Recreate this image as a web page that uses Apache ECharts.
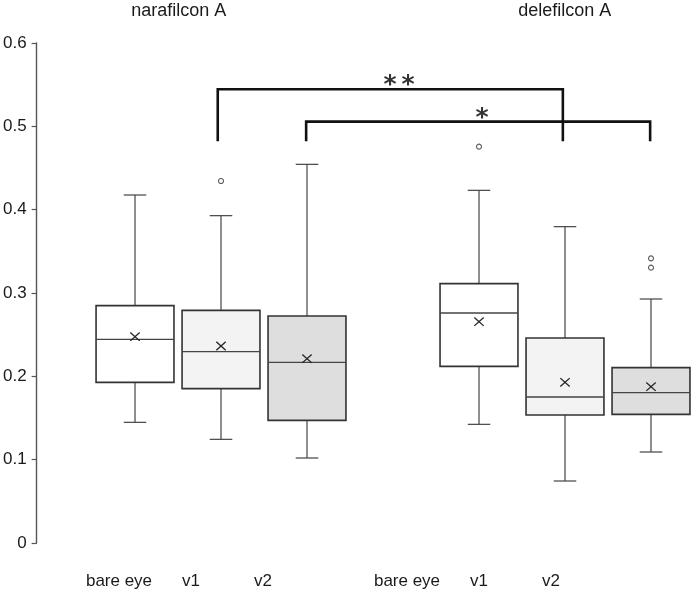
<!DOCTYPE html>
<html>
<head>
<meta charset="utf-8">
<style>
  html, body { margin: 0; padding: 0; background: #ffffff; }
  #chart { width: 693px; height: 607px; }
</style>
<script src="https://cdn.jsdelivr.net/npm/echarts@6/dist/echarts.min.js"></script>
</head>
<body>
<div id="chart"></div>
<script>
// ---- data ----
const tickLabels = ['', 'bare eye', 'v1', 'v2', '', 'bare eye', 'v1', 'v2'];
const groupNames = ['narafilcon A', 'delefilcon A'];
const boxPositions = [1, 2, 3, 5, 6, 7];
const boxMin    = [0.1448, 0.1244, 0.1020, 0.1424, 0.0744, 0.1092];
const boxQ1     = [0.1928, 0.1852, 0.1472, 0.2120, 0.1536, 0.1544];
const boxMedian = [0.2444, 0.2296, 0.2168, 0.2760, 0.1752, 0.1804];
const boxQ3     = [0.2848, 0.2792, 0.2724, 0.3112, 0.2460, 0.2104];
const boxMax    = [0.4176, 0.3928, 0.4544, 0.4232, 0.3796, 0.2928];
const boxMean   = [0.2476, 0.2364, 0.2212, 0.2656, 0.1928, 0.1876];
const outlierX  = [2, 5, 7, 7];
const outlierY  = [0.4344, 0.4756, 0.3416, 0.3304];
// significance brackets
const bracket1X = [1.962, 1.962, 5.975, 5.975];
const bracket1Y = [0.4836, 0.5445, 0.5445, 0.4836];
const bracket2X = [2.99, 2.99, 6.99, 6.99];
const bracket2Y = [0.4836, 0.5056, 0.5056, 0.4836];
const starLabels = ['*\u2009*', '*'];
const starX = [4.07, 5.034];
const starY = [0.549, 0.5095];

// ---- styles ----
const boxFills = ['#ffffff', '#f3f3f3', '#dedede', '#ffffff', '#f3f3f3', '#dedede'];
const FONT = '"Liberation Sans", Arial, Helvetica, sans-serif';

const boxData = boxPositions.map((x, i) => [x, boxMin[i], boxQ1[i], boxMedian[i], boxQ3[i], boxMax[i], boxMean[i]]);
const outlierData = outlierX.map((x, i) => [x, outlierY[i]]);
const b1 = bracket1X.map((x, i) => [x, bracket1Y[i]]);
const b2 = bracket2X.map((x, i) => [x, bracket2Y[i]]);
const starData = starX.map((x, i) => ({ value: [x, starY[i]], label: { formatter: starLabels[i] } }));

const chart = echarts.init(document.getElementById('chart'), null, { renderer: 'canvas' });

const option = {
  animation: false,
  backgroundColor: '#ffffff',
  grid: [
    { left: 36, right: 42, top: 43, bottom: 64 },
    { left: 47, right: 142, top: 43, bottom: 64 }
  ],
  xAxis: [
    { gridIndex: 0, type: 'value', min: -0.144, max: 7, show: false },
    {
      gridIndex: 1, type: 'category', boundaryGap: false, data: tickLabels,
      axisLine: { show: false }, axisTick: { show: false }, splitLine: { show: false },
      axisLabel: { interval: 0, fontSize: 17, fontFamily: FONT, color: '#1a1a1a', margin: 30 }
    }
  ],
  yAxis: [
    {
      gridIndex: 0, type: 'value', min: 0, max: 0.6, interval: 0.1,
      axisLine: { show: true, onZero: false, lineStyle: { color: '#555555', width: 1.4 } },
      axisTick: { show: true, inside: false, length: 5, lineStyle: { color: '#555555', width: 1.2 } },
      splitLine: { show: false },
      axisLabel: { fontSize: 17, fontFamily: FONT, color: '#1a1a1a', margin: 10 }
    },
    { gridIndex: 1, type: 'value', min: 0, max: 0.6, show: false }
  ],
  graphic: [
    { type: 'text', x: 178.7, y: 11, style: { text: groupNames[0], font: '18px ' + FONT, fill: '#1a1a1a', textAlign: 'center', textVerticalAlign: 'middle' } },
    { type: 'text', x: 564.7, y: 11, style: { text: groupNames[1], font: '18px ' + FONT, fill: '#1a1a1a', textAlign: 'center', textVerticalAlign: 'middle' } }
  ],
  series: [
    {
      type: 'custom',
      xAxisIndex: 0, yAxisIndex: 0,
      data: boxData,
      encode: { x: 0, y: [1, 2, 3, 4, 5, 6] },
      renderItem: function (params, api) {
        const x = api.value(0);
        const lo = api.coord([x, api.value(1)]);
        const q1 = api.coord([x, api.value(2)]);
        const med = api.coord([x, api.value(3)]);
        const q3 = api.coord([x, api.value(4)]);
        const hi = api.coord([x, api.value(5)]);
        const mn = api.coord([x, api.value(6)]);
        const unit = api.size([1, 0])[0];
        const bw = unit * 0.906;
        const cw = unit * 0.262;
        const cx = lo[0];
        const wStyle = { stroke: '#444444', lineWidth: 1.2 };
        const mx = 4.7, my = 4.2;
        return {
          type: 'group',
          children: [
            { type: 'line', shape: { x1: cx, y1: hi[1], x2: cx, y2: q3[1] }, style: wStyle },
            { type: 'line', shape: { x1: cx, y1: q1[1], x2: cx, y2: lo[1] }, style: wStyle },
            { type: 'line', shape: { x1: cx - cw / 2, y1: hi[1], x2: cx + cw / 2, y2: hi[1] }, style: wStyle },
            { type: 'line', shape: { x1: cx - cw / 2, y1: lo[1], x2: cx + cw / 2, y2: lo[1] }, style: wStyle },
            { type: 'rect', shape: { x: cx - bw / 2, y: q3[1], width: bw, height: q1[1] - q3[1] },
              style: { fill: boxFills[params.dataIndex], stroke: '#333333', lineWidth: 1.6 } },
            { type: 'line', shape: { x1: cx - bw / 2, y1: med[1], x2: cx + bw / 2, y2: med[1] }, style: { stroke: '#444444', lineWidth: 1.4 } },
            { type: 'line', shape: { x1: cx - mx, y1: mn[1] - my, x2: cx + mx, y2: mn[1] + my }, style: { stroke: '#222222', lineWidth: 1.3 } },
            { type: 'line', shape: { x1: cx - mx, y1: mn[1] + my, x2: cx + mx, y2: mn[1] - my }, style: { stroke: '#222222', lineWidth: 1.3 } }
          ]
        };
      },
      z: 2
    },
    {
      type: 'scatter', xAxisIndex: 0, yAxisIndex: 0,
      data: outlierData, symbol: 'circle', symbolSize: 5,
      itemStyle: { color: '#ffffff', borderColor: '#333333', borderWidth: 1.1 },
      z: 3
    },
    {
      type: 'line', xAxisIndex: 0, yAxisIndex: 0, data: b1, showSymbol: false, symbol: 'none',
      lineStyle: { color: '#111111', width: 2.6, cap: 'square', join: 'miter' }, z: 4
    },
    {
      type: 'line', xAxisIndex: 0, yAxisIndex: 0, data: b2, showSymbol: false, symbol: 'none',
      lineStyle: { color: '#111111', width: 2.6, cap: 'square', join: 'miter' }, z: 4
    },
    {
      type: 'scatter', xAxisIndex: 0, yAxisIndex: 0, data: starData,
      symbolSize: 1, itemStyle: { color: 'rgba(0,0,0,0)' },
      label: { show: true, position: 'inside', fontSize: 25, fontWeight: 'bold', fontFamily: '"DejaVu Sans", sans-serif', color: '#000000' },
      z: 5
    }
  ]
};
chart.setOption(option);
</script>
</body>
</html>
